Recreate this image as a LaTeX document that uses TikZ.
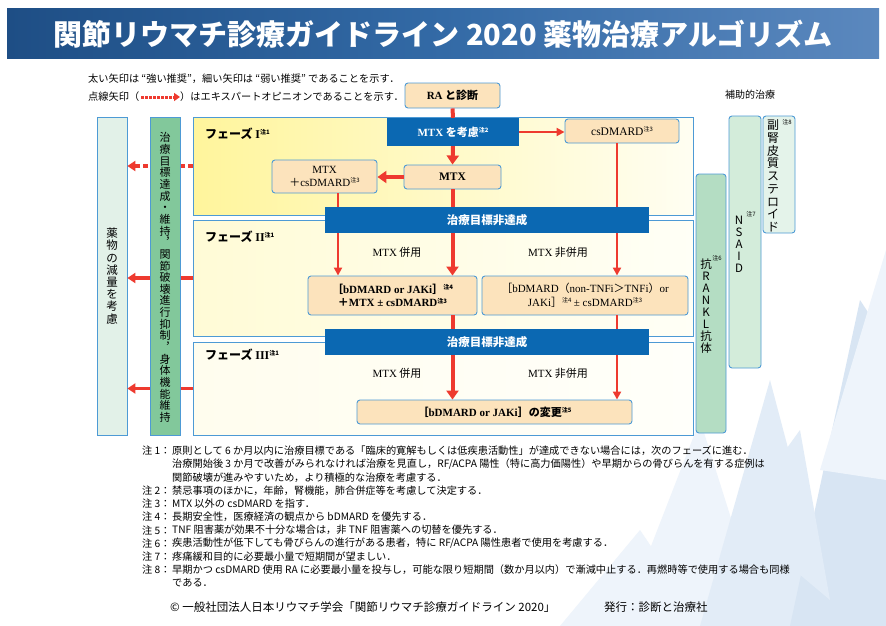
\documentclass[tikz,border=0pt]{standalone}
\usepackage{fontspec}
\setmainfont{Noto Sans CJK JP}
\newfontfamily\tms{Liberation Serif}
\usetikzlibrary{arrows.meta,calc}
\definecolor{bord}{HTML}{4D9AD5}
\definecolor{peach}{HTML}{FCE3BC}
\definecolor{bbar}{HTML}{0B68B2}
\definecolor{ared}{HTML}{EE3A2F}
\definecolor{tl}{HTML}{1E4E85}
\definecolor{tm}{HTML}{336AA6}
\definecolor{tr}{HTML}{5B88BE}
\definecolor{pIl}{HTML}{FFF59C}
\definecolor{pIr}{HTML}{FFFEF2}
\definecolor{pIIl}{HTML}{FFFBD6}
\definecolor{pIIr}{HTML}{FFFFF6}
\definecolor{pIIIl}{HTML}{FFFDEE}
\definecolor{pIIIr}{HTML}{FFFFFA}
\definecolor{redfill}{HTML}{E2F1E8}
\definecolor{goalfill}{HTML}{82C89B}
\definecolor{ranklfill}{HTML}{B4DDC3}
\definecolor{nsaidfill}{HTML}{D3ECDA}
\definecolor{sterfill}{HTML}{E4F3EA}
\definecolor{shA}{HTML}{EEF4FB}
\definecolor{shB}{HTML}{E2ECF7}
\definecolor{shC}{HTML}{D8E5F3}
\newcommand{\chu}[1]{\raisebox{0.6ex}{\fontsize{6}{6}\selectfont 注#1}}
\begin{document}
\begin{tikzpicture}[x=1pt,y=-1pt,
  pbox/.style={draw=bord, fill=peach, rounded corners=3pt, line width=0.9pt, inner sep=0pt, align=center},
  bluebar/.style={fill=bbar, inner sep=0pt, text=white, font=\bfseries\fontsize{11.5}{13}\selectfont},
  frame/.style={draw=bord, line width=0.8pt, inner sep=0pt},
  vbox/.style={draw=bord, line width=0.9pt, inner sep=0pt, rounded corners=3pt},
  thickarrow/.style={draw=ared, line width=4pt, -{Triangle[length=9pt,width=12pt]}},
  thinarrow/.style={draw=ared, line width=2pt, -{Triangle[length=8pt,width=8pt]}},
  thickline/.style={draw=ared, line width=4pt},
  leftarrow/.style={draw=ared, line width=3.5pt, -{Triangle[length=8pt,width=10pt]}},
  dasharrow/.style={leftarrow, dash pattern=on 5pt off 2.5pt},
  vtext/.style={align=center, inner sep=0pt},
  note/.style={anchor=west, inner sep=0pt, font=\fontsize{10.2}{12}\selectfont},
  lbl/.style={inner sep=0pt, font=\fontsize{11}{13}\selectfont},
  legend/.style={anchor=west, inner sep=0pt, font=\fontsize{10.2}{12}\selectfont},
]
\useasboundingbox (0,0) rectangle (886,626);
\fill[white] (0,0) rectangle (886,626);
% background shards
\fill[shA] (560,626) -- (640,530) -- (705,626) -- cycle;
\fill[shA] (620,626) -- (700,420) -- (765,626) -- cycle;
\fill[shB] (700,626) -- (770,380) -- (835,626) -- cycle;
\fill[shC] (790,626) -- (860,300) -- (886,340) -- (886,626) -- cycle;
\fill[shA] (820,470) -- (886,250) -- (886,480) -- cycle;
\fill[shB] (735,520) -- (800,430) -- (830,600) -- cycle;
% title
\node[minimum width=872, minimum height=50, inner sep=0pt, left color=tl, right color=tr, middle color=tm] (banner) at (443,34) {};
\node[text=white, font=\bfseries\fontsize{29}{31}\selectfont] (title) at (443,34) {関節リウマチ診療ガイドライン 2020 薬物治療アルゴリズム};
% legend
\node[legend] (leg1) at (88,79) {太い矢印は “強い推奨”，細い矢印は “弱い推奨” であることを示す．};
\node[legend] (leg2a) at (88,97) {点線矢印（};
\node[legend] (leg2b) at (180,97) {）はエキスパートオピニオンであることを示す．};
\draw[draw=ared, line width=3pt, dash pattern=on 2.5pt off 1.5pt, -{Triangle[length=6pt,width=8pt]}] (leg2a.east) ++(2,0) coordinate (lgs) -- (lgs -| leg2b.west);
\node[inner sep=0pt, font=\fontsize{10}{12}\selectfont] (aux) at (750,95) {補助的治療};
% phase frames
\node[frame, left color=pIl, right color=pIr, minimum width=500, minimum height=98] (p1) at (443,166) {};
\node[frame, left color=pIIl, right color=pIIr, minimum width=500, minimum height=116] (p2) at (443,278) {};
\node[frame, left color=pIIIl, right color=pIIIr, minimum width=500, minimum height=93] (p3) at (443,388.5) {};
\node[anchor=west, inner sep=0pt, font=\bfseries\fontsize{12}{14}\selectfont] (p1l) at (205,134) {フェーズ {\tms I}\chu{1}};
\node[anchor=west, inner sep=0pt, font=\bfseries\fontsize{12}{14}\selectfont] (p2l) at (205,237) {フェーズ {\tms II}\chu{1}};
\node[anchor=west, inner sep=0pt, font=\bfseries\fontsize{12}{14}\selectfont] (p3l) at (205,355) {フェーズ {\tms III}\chu{1}};
% left boxes
\node[frame, fill=redfill, minimum width=30, minimum height=318] (reduce) at (112,276) {};
\node[vtext, font=\fontsize{11.5}{12.2}\selectfont] (reducet) at (112,276) {薬\\物\\の\\減\\量\\を\\考\\慮};
\draw[dasharrow] (p1.west) -- (p1.west -| reduce.east);
\draw[leftarrow] (p2.west) -- (p2.west -| reduce.east);
\draw[leftarrow] (p3.west) -- (p3.west -| reduce.east);
\node[frame, fill=goalfill, minimum width=30, minimum height=318] (goal) at (165,276) {};
\node[vtext, font=\fontsize{11}{11.65}\selectfont] (goalt) at (165,277.5) {治\\療\\目\\標\\達\\成\\・\\維\\持\\︐\\関\\節\\破\\壊\\進\\行\\抑\\制\\︐\\身\\体\\機\\能\\維\\持};
% flow boxes
\node[pbox, minimum width=95, minimum height=25, font=\bfseries\fontsize{11}{13}\selectfont] (ra) at (452.5,95.5) {{\tms RA} と診断};
\node[bluebar, minimum width=132, minimum height=28, font=\bfseries\fontsize{11}{13}\selectfont] (mtxc) at (453,132) {{\tms MTX} を考慮\chu{2}};
\node[pbox, minimum width=114, minimum height=24, font=\fontsize{11.5}{13}\selectfont] (csd) at (622,131) {{\tms csDMARD}\chu{3}};
\node[pbox, minimum width=97, minimum height=24, font=\bfseries\fontsize{11.5}{13}\selectfont] (mtx) at (452.5,177) {{\tms MTX}};
\node[pbox, minimum width=105, minimum height=33, font=\fontsize{11}{13}\selectfont] (mcs) at (324.5,176.5) {{\tms MTX}\\＋{\tms csDMARD}\chu{3}};
\node[pbox, minimum width=169, minimum height=39, font=\bfseries\fontsize{11}{13.5}\selectfont] (boxA) at (392.5,295.5) {［{\tms bDMARD or JAKi}］\chu{4}\\＋{\tms MTX ± csDMARD}\chu{3}};
\node[pbox, minimum width=206, minimum height=39, font=\fontsize{11}{13.5}\selectfont] (boxB) at (585,295.5) {［{\tms bDMARD}（{\tms non-TNFi}＞{\tms TNFi}）{\tms or}\\{\tms JAKi}］\chu{4} {\tms ± csDMARD}\chu{3}};
\node[pbox, minimum width=275, minimum height=24, font=\bfseries\fontsize{11}{13}\selectfont] (final) at (494.5,412) {［{\tms bDMARD or JAKi}］の変更\chu{5}};
% arrows
\coordinate (c338) at (338,0);
\coordinate (c617) at (617,0);
\draw[thickline] (ra.south) -- (mtxc.north);
\draw[thickarrow] (mtxc.south) -- (mtx.north);
\draw[thinarrow] (mtxc.east) -- (mtxc.east -| csd.west);
\draw[thickarrow] (mtx.west) -- (mtx.west -| mcs.east);
\draw[thickarrow] (mtx.south) -- (mtx.south |- boxA.north);
\draw[thinarrow] (mcs.south -| c338) -- (c338 |- boxA.north);
\draw[thinarrow] (csd.south -| c617) -- (c617 |- boxB.north);
\draw[thickarrow] (boxA.south -| mtx.south) -- (mtx.south |- final.north);
\draw[thinarrow] (boxB.south -| c617) -- (c617 |- final.north);
% bars
\node[bluebar, minimum width=324, minimum height=26] (bar1) at (487,220) {治療目標非達成};
\node[bluebar, minimum width=324, minimum height=26] (bar2) at (487,342) {治療目標非達成};
% labels
\node[lbl] (l1) at (397,252) {{\tms MTX} 併用};
\node[lbl] (l2) at (558,252) {{\tms MTX} 非併用};
\node[lbl] (l3) at (397,373) {{\tms MTX} 併用};
\node[lbl] (l4) at (558,373) {{\tms MTX} 非併用};
% right boxes
\node[vbox, fill=ranklfill, minimum width=30, minimum height=259] (rankl) at (711,303.5) {};
\node[vtext, font=\fontsize{11.5}{11.9}\selectfont] (ranklt) at (706,306) {抗\\R\\A\\N\\K\\L\\抗\\体};
\node[inner sep=0pt, font=\fontsize{6}{6}\selectfont] (n6) at (717,258) {注6};
\node[vbox, fill=nsaidfill, minimum width=32, minimum height=252] (nsaid) at (745,242) {};
\node[vtext, font=\fontsize{11.5}{12}\selectfont] (nsaidt) at (739,244) {N\\S\\A\\I\\D};
\node[inner sep=0pt, font=\fontsize{6}{6}\selectfont] (n7) at (751,214) {注7};
\node[vbox, fill=sterfill, minimum width=32, minimum height=117] (ster) at (779,174.5) {};
\node[vtext, font=\fontsize{12}{12.7}\selectfont] (stert) at (773,176) {副\\腎\\皮\\質\\ス\\テ\\ロ\\イ\\ド};
\node[inner sep=0pt, font=\fontsize{6}{6}\selectfont] (n8) at (787,122) {注8};
% notes
\node[note] (k1) at (142,451) {注 1：};
\node[note] (t1a) at (172,451) {原則として 6 か月以内に治療目標である「臨床的寛解もしくは低疾患活動性」が達成できない場合には，次のフェーズに進む．};
\node[note] (t1b) at (172,464.2) {治療開始後 3 か月で改善がみられなければ治療を見直し，RF/ACPA 陽性（特に高力価陽性）や早期からの骨びらんを有する症例は};
\node[note] (t1c) at (172,477.4) {関節破壊が進みやすいため，より積極的な治療を考慮する．};
\node[note] (k2) at (142,490.6) {注 2：};
\node[note] (t2) at (172,490.6) {禁忌事項のほかに，年齢，腎機能，肺合併症等を考慮して決定する．};
\node[note] (k3) at (142,503.8) {注 3：};
\node[note] (t3) at (172,503.8) {MTX 以外の csDMARD を指す．};
\node[note] (k4) at (142,517) {注 4：};
\node[note] (t4) at (172,517) {長期安全性，医療経済の観点から bDMARD を優先する．};
\node[note] (k5) at (142,530.2) {注 5：};
\node[note] (t5) at (172,530.2) {TNF 阻害薬が効果不十分な場合は，非 TNF 阻害薬への切替を優先する．};
\node[note] (k6) at (142,543.4) {注 6：};
\node[note] (t6) at (172,543.4) {疾患活動性が低下しても骨びらんの進行がある患者，特に RF/ACPA 陽性患者で使用を考慮する．};
\node[note] (k7) at (142,556.6) {注 7：};
\node[note] (t7) at (172,556.6) {疼痛緩和目的に必要最小量で短期間が望ましい．};
\node[note] (k8) at (142,569.8) {注 8：};
\node[note] (t8a) at (172,569.8) {早期かつ csDMARD 使用 RA に必要最小量を投与し，可能な限り短期間（数か月以内）で漸減中止する．再燃時等で使用する場合も同様};
\node[note] (t8b) at (172,583) {である．};
% footer
\node[anchor=west, inner sep=0pt, font=\fontsize{11.5}{13}\selectfont] (foot1) at (170,607) {© 一般社団法人日本リウマチ学会「関節リウマチ診療ガイドライン 2020」};
\node[anchor=west, inner sep=0pt, font=\fontsize{11.5}{13}\selectfont] (foot2) at (604,607) {発行：診断と治療社};
\end{tikzpicture}
\end{document}
